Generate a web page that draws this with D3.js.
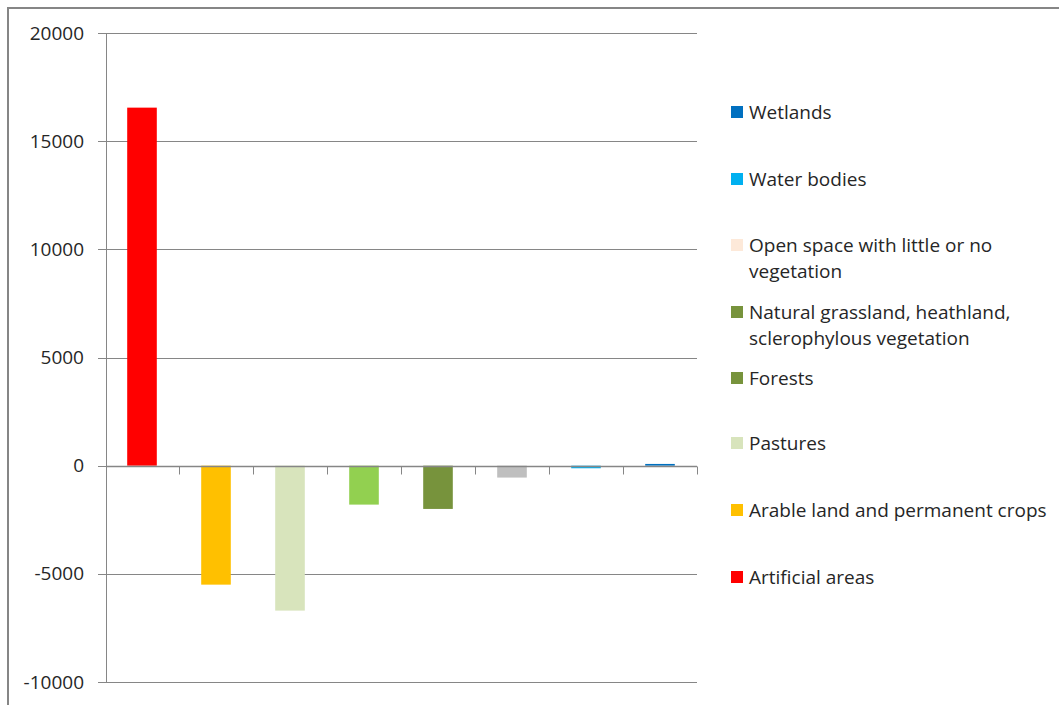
<!DOCTYPE html>
<html>
<head>
<meta charset="utf-8">
<script src="https://cdn.jsdelivr.net/npm/d3@7"></script>
<style>
  html, body { margin: 0; padding: 0; background: #fff; }
  svg { display: block; }
  text { font-family: "Open Sans", "Noto Sans", sans-serif; fill: #262626; }
</style>
</head>
<body>
<svg id="chart" width="1059" height="705"></svg>
<script>
// ---- data ----
const categories = [
  "Artificial areas",
  "Arable land and permanent crops",
  "Pastures",
  "Forests",
  "Natural grassland, heathland, sclerophylous vegetation",
  "Open space with little or no vegetation",
  "Water bodies",
  "Wetlands"
];
const values = [16550, -5500, -6700, -1800, -2000, -550, -120, 80];
const barColors = ["#ff0000", "#ffc000", "#d8e4bc", "#92d050", "#77933c", "#bfbfbf", "#00b0f0", "#0070c0"];
const legendLabels = [
  ["Wetlands"],
  ["Water bodies"],
  ["Open space with little or no", "vegetation"],
  ["Natural grassland, heathland,", "sclerophylous vegetation"],
  ["Forests"],
  ["Pastures"],
  ["Arable land and permanent crops"],
  ["Artificial areas"]
];
const legendColors = ["#0070c0", "#00b0f0", "#fde9d9", "#77933c", "#77933c", "#d8e4bc", "#ffc000", "#ff0000"];
const yTicks = [-10000, -5000, 0, 5000, 10000, 15000, 20000];

// ---- layout ----
const svg = d3.select("#chart");
const plot = { left: 106, right: 698, top: 33, bottom: 682 };
const grey = "#868686";

// outer frame
svg.append("rect")
  .attr("x", 8).attr("y", 8)
  .attr("width", 1100).attr("height", 760)
  .attr("fill", "none").attr("stroke", grey).attr("stroke-width", 2);

const x = d3.scaleBand().domain(d3.range(categories.length)).range([plot.left, plot.right]).padding(0);
const y = d3.scaleLinear().domain([-10000, 20000]).range([plot.bottom, plot.top]);

// gridlines
svg.append("g").selectAll("line").data(yTicks).join("line")
  .attr("x1", plot.left - 8).attr("x2", plot.right - 1)
  .attr("y1", d => Math.round(y(d)) + 0.5).attr("y2", d => Math.round(y(d)) + 0.5)
  .attr("stroke", grey).attr("stroke-width", 1);

// y axis labels
const yAxis = d3.axisLeft(y).tickValues(yTicks).tickSize(0).tickPadding(22).tickFormat(d => String(d));
const ga = svg.append("g").attr("transform", `translate(${plot.left},0)`).call(yAxis);
ga.select(".domain").remove();
ga.selectAll("text").style("font-size", "19px").style("font-family", "\"Open Sans\", sans-serif").attr("fill", "#262626");

// bars
const bw = x.bandwidth() * 0.4;
svg.append("g").selectAll("rect").data(values).join("rect")
  .attr("x", (d, i) => x(i) + (x.bandwidth() - bw) / 2 - 1)
  .attr("width", bw)
  .attr("y", d => Math.min(y(d), y(0)))
  .attr("height", d => Math.abs(y(d) - y(0)))
  .attr("fill", (d, i) => barColors[i]);

// vertical axis line
svg.append("line")
  .attr("x1", plot.left + 0.5).attr("x2", plot.left + 0.5)
  .attr("y1", plot.top).attr("y2", plot.bottom + 1)
  .attr("stroke", grey).attr("stroke-width", 1);

// zero axis with category ticks
const zy = Math.round(y(0)) + 0.5;
svg.append("line")
  .attr("x1", plot.left).attr("x2", plot.right - 1)
  .attr("y1", zy).attr("y2", zy)
  .attr("stroke", grey).attr("stroke-width", 1.5);
svg.append("g").selectAll("line").data(d3.range(1, categories.length + 1)).join("line")
  .attr("x1", i => Math.round(x(0) + i * x.bandwidth()) - 0.5)
  .attr("x2", i => Math.round(x(0) + i * x.bandwidth()) - 0.5)
  .attr("y1", zy).attr("y2", zy + 8)
  .attr("stroke", grey).attr("stroke-width", 1);

// legend
const legendY = [112, 179, 245, 312, 378, 443, 510, 577];
const lg = svg.append("g");
legendLabels.forEach((lines, i) => {
  const g = lg.append("g").attr("transform", `translate(731,${legendY[i]})`);
  g.append("rect").attr("x", 0).attr("y", -6).attr("width", 12).attr("height", 12).attr("fill", legendColors[i]);
  const t = g.append("text").attr("x", 18).attr("y", 0).style("font-size", "19px");
  lines.forEach((ln, j) => {
    t.append("tspan").attr("x", 18).attr("dy", j === 0 ? "0.35em" : "26px").text(ln);
  });
});
</script>
</body>
</html>
